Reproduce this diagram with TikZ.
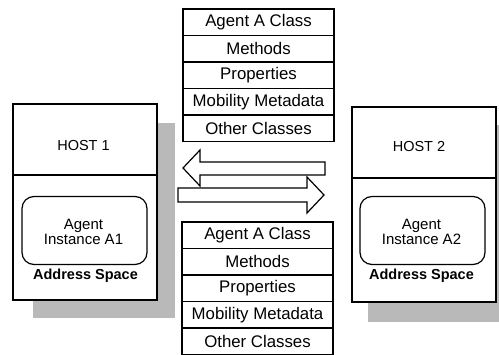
\documentclass[tikz,border=0pt]{standalone}
\usepackage{fontspec}
\setmainfont{Liberation Sans}
\begin{document}
\begin{tikzpicture}[x=1pt,y=-1pt,line width=1.2pt,
  rowbox/.style={draw,fill=white,minimum width=151pt,minimum height=26.5pt,inner sep=0pt,font=\fontsize{16.8}{18}\selectfont},
  hostbox/.style={draw,fill=white,inner sep=0pt},
  shade/.style={fill=gray!55,draw=none},
  agentbox/.style={draw,fill=white,rounded corners=12pt,minimum width=125pt,minimum height=68pt,inner sep=0pt},
  agentlabel/.style={align=center,font=\fontsize{15}{15.5}\selectfont},
  hostlabel/.style={font=\fontsize{14.5}{16}\selectfont},
  addrlabel/.style={font=\bfseries\fontsize{14.5}{16}\selectfont},
  blockarrow/.style={draw,fill=white,line join=miter}]
\useasboundingbox (0,0) rectangle (499,355);

% shadows
\fill[shade] (33,123) rectangle (175,318);
\fill[shade] (368,125) rectangle (515,322);

% host 1
\node[hostbox,minimum width=144pt,minimum height=196pt] (h1) at (85,202) {};
\draw (h1.west |- 0,175) coordinate (h1dl) -- (h1.east |- 0,175) coordinate (h1dr);
\node[hostlabel] (h1t) at (83.5,146) {HOST 1};
\node[agentbox] (a1) at (84.5,230.5) {};
\node[agentlabel] (a1t) at (83.5,232) {Agent\\Instance A1};
\node[addrlabel] (as1) at (85.5,276) {Address Space};

% host 2
\node[hostbox,minimum width=144pt,minimum height=195pt] (h2) at (424,204.5) {};
\draw (h2.west |- 0,178) coordinate (h2dl) -- (h2.east |- 0,178) coordinate (h2dr);
\node[hostlabel] (h2t) at (419,147) {HOST 2};
\node[agentbox] (a2) at (422.5,230.5) {};
\node[agentlabel] (a2t) at (421.5,232) {Agent\\Instance A2};
\node[addrlabel] (as2) at (421.5,276) {Address Space};

% top stack
\node[rowbox] (t1) at (258.5,22.25) {Agent A Class};
\node[rowbox] (t2) at (258.5,48.75) {Methods};
\node[rowbox] (t3) at (258.5,75.25) {Properties};
\node[rowbox] (t4) at (258.5,101.75) {Mobility Metadata};
\node[rowbox] (t5) at (258.5,128.25) {Other Classes};

% bottom stack
\node[rowbox] (b1) at (257.5,235.25) {Agent A Class};
\node[rowbox] (b2) at (257.5,261.75) {Methods};
\node[rowbox] (b3) at (257.5,288.25) {Properties};
\node[rowbox] (b4) at (257.5,314.75) {Mobility Metadata};
\node[rowbox] (b5) at (257.5,341.25) {Other Classes};

% block arrows
\draw[blockarrow] (183,168) -- (200,150) -- (200,162) -- (325,162) -- (325,175) -- (200,175) -- (200,186) -- cycle;
\draw[blockarrow] (178,188) -- (307,188) -- (307,177) -- (324,195) -- (307,213) -- (307,202) -- (178,202) -- cycle;
\end{tikzpicture}
\end{document}
